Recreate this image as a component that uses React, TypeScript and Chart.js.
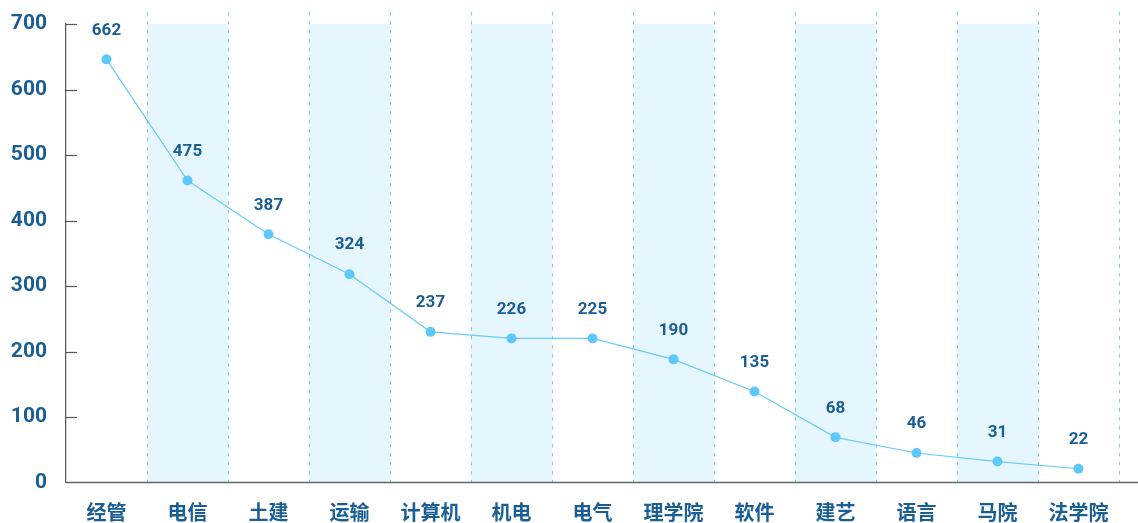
import React, { useEffect, useRef } from "react";
import { Chart, registerables } from "chart.js";

Chart.register(...registerables);

const categories = ["经管", "电信", "土建", "运输", "计算机", "机电", "电气", "理学院", "软件", "建艺", "语言", "马院", "法学院"];
// label numbers printed above each point
const labelValues = [662, 475, 387, 324, 237, 226, 225, 190, 135, 68, 46, 31, 22];
// point heights
const plottedValues = [646, 461, 379, 318, 230, 220, 220, 188, 139, 69, 45, 32, 21];
const yTicks = [0, 100, 200, 300, 400, 500, 600, 700];

const TEXT = "rgb(26, 94, 150)";
const NUM_FONT = "Roboto, 'DejaVu Sans', sans-serif";
const CJK_FONT = "'Noto Sans CJK SC', sans-serif";

const decorPlugin = {
  id: "decor",
  beforeDatasetsDraw(chart: any) {
    const { ctx, chartArea } = chart;
    const xs = chart.scales.x;
    const ys = chart.scales.y;
    const n = categories.length;
    const w = (chartArea.right - chartArea.left) / n;
    ctx.save();
    // bands
    ctx.fillStyle = "rgb(230, 246, 254)";
    for (let i = 1; i < n; i += 2) {
      const cx = xs.getPixelForValue(i);
      ctx.fillRect(cx - w / 2, chartArea.top, w, chartArea.bottom - chartArea.top);
    }
    // dashed separators
    ctx.strokeStyle = "rgb(120, 205, 242)";
    ctx.lineWidth = 1;
    ctx.setLineDash([3.5, 5.5]);
    for (let i = 0; i < n; i++) {
      const bx = Math.round(xs.getPixelForValue(i) + w / 2) + 0.5;
      ctx.beginPath();
      ctx.moveTo(bx, chartArea.top - 12);
      ctx.lineTo(bx, chartArea.bottom);
      ctx.stroke();
    }
    ctx.setLineDash([]);
    // inward ticks on y axis
    ctx.strokeStyle = "#555";
    ctx.lineWidth = 1.2;
    for (const t of yTicks) {
      if (t === 0) continue;
      const y = Math.round(ys.getPixelForValue(t)) + 0.5;
      ctx.beginPath();
      ctx.moveTo(chartArea.left, y);
      ctx.lineTo(chartArea.left + 11, y);
      ctx.stroke();
    }
    // x axis line
    ctx.strokeStyle = "#666";
    ctx.lineWidth = 1.5;
    ctx.beginPath();
    ctx.moveTo(chartArea.left, chartArea.bottom);
    ctx.lineTo(chart.width, chartArea.bottom);
    ctx.stroke();
    ctx.restore();
  },
  afterDatasetsDraw(chart: any) {
    const { ctx } = chart;
    const meta = chart.getDatasetMeta(0);
    ctx.save();
    ctx.fillStyle = TEXT;
    ctx.font = `bold 17px ${NUM_FONT}`;
    ctx.textAlign = "center";
    ctx.textBaseline = "middle";
    meta.data.forEach((pt: any, i: number) => {
      ctx.fillText(String(labelValues[i]), pt.x, pt.y - 29);
    });
    ctx.restore();
  },
};

export default function App() {
  const ref = useRef<HTMLCanvasElement | null>(null);
  useEffect(() => {
    if (!ref.current) return;
    const chart = new Chart(ref.current, {
      type: "line",
      data: {
        labels: categories,
        datasets: [
          {
            data: plottedValues,
            borderColor: "rgb(105, 203, 250)",
            borderWidth: 1.2,
            backgroundColor: "rgb(95, 200, 250)",
            pointBackgroundColor: "rgb(95, 200, 250)",
            pointBorderWidth: 0,
            pointRadius: 5,
            tension: 0,
          },
        ],
      },
      options: {
        animation: false,
        responsive: false,
        maintainAspectRatio: false,
        layout: { padding: { top: 24, right: 19, left: 0, bottom: 0 } },
        plugins: { legend: { display: false }, tooltip: { enabled: false } },
        scales: {
          x: {
            type: "category",
            offset: true,
            grid: { display: false, drawTicks: false },
            border: { display: false },
            ticks: {
              color: TEXT,
              padding: 18,
              font: { family: CJK_FONT, size: 20, weight: "bold" },
              maxRotation: 0,
              autoSkip: false,
            },
            afterFit: (s: any) => {
              s.height = 40.5;
              s.paddingLeft = 0;
              s.paddingRight = 0;
            },
          },
          y: {
            min: 0,
            max: 700,
            grid: { display: false, drawTicks: false },
            border: { display: true, color: "#555", width: 1.2 },
            ticks: {
              stepSize: 100,
              color: TEXT,
              padding: 19,
              font: { family: NUM_FONT, size: 21, weight: "bold" },
            },
            afterFit: (s: any) => {
              s.width = 66;
              s.paddingTop = 0;
              s.paddingBottom = 0;
            },
          },
        },
      },
      plugins: [decorPlugin],
    });
    return () => chart.destroy();
  }, []);
  return (
    <div style={{ position: "absolute", left: 0, top: 0, width: 1138, height: 523 }}>
      <canvas ref={ref} width={1138} height={523} style={{ display: "block" }} />
    </div>
  );
}
